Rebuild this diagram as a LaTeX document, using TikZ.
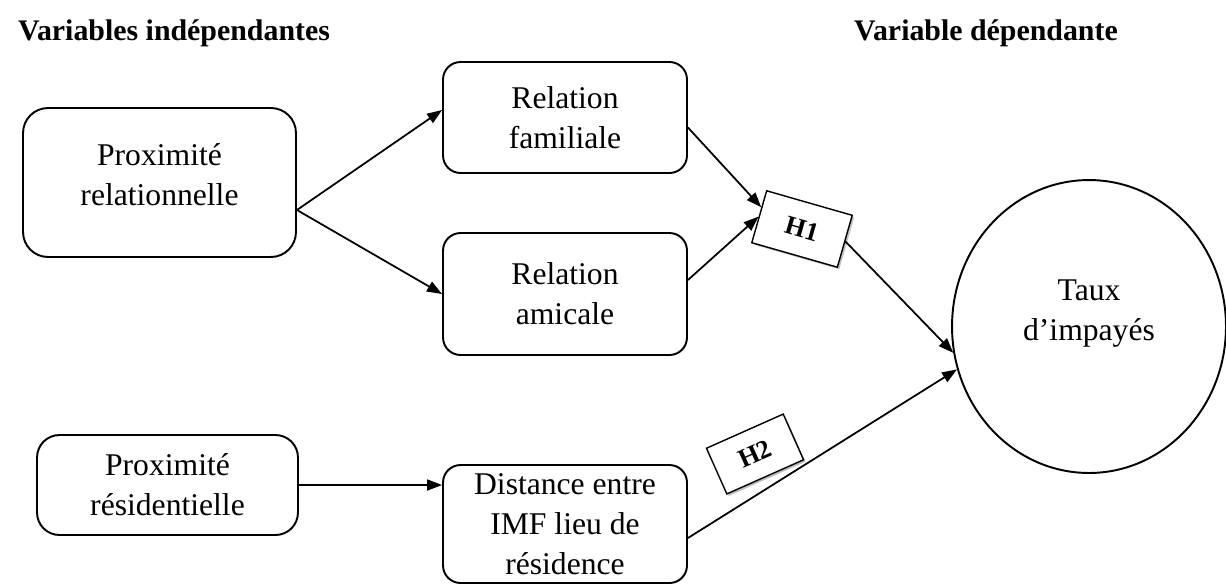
\documentclass[tikz,border=0pt]{standalone}
\usepackage{fontspec}
\setmainfont{Liberation Serif}
\usetikzlibrary{shapes.geometric, arrows.meta, positioning, calc, shadows}

\tikzset{
  varbox/.style={draw, line width=1.1pt, rounded corners=0.35cm, align=center, font=\fontsize{18}{22.7}\selectfont},
  hypbox/.style={draw, line width=0.8pt, fill=white, inner sep=0pt, font=\bfseries\fontsize{15}{15}\selectfont, drop shadow={shadow xshift=0.04cm, shadow yshift=-0.04cm, opacity=0.5}},
  arr/.style={line width=1pt, -{Triangle[length=0.3cm, width=0.22cm]}},
  titre/.style={font=\bfseries\fontsize{17}{20}\selectfont}
}

\begin{document}
\begin{tikzpicture}[x=0.02cm, y=-0.02cm]
        \useasboundingbox (0,0) rectangle (1226,586);

        \node[titre, anchor=base west] (tind) at (12,40) {Variables indépendantes};
        \node[titre, anchor=base east] (tdep) at (1124,40) {Variable dépendante};

        \node[varbox, rounded corners=0.5cm, minimum width=5.46cm, minimum height=2.98cm] (rel) at (159.5,182.5) {Proximité\\relationnelle\\[-0.48cm]};
        \node[varbox, minimum width=4.88cm, minimum height=2.22cm] (fam) at (565,117.5) {Relation\\familiale};
        \node[varbox, minimum width=4.88cm, minimum height=2.44cm] (ami) at (565,294) {Relation\\amicale};
        \node[varbox, rounded corners=0.45cm, minimum width=5.22cm, minimum height=2cm] (res) at (167.5,485) {Proximité\\résidentielle};
        \node[varbox, minimum width=4.88cm, minimum height=2.36cm] (dist) at (565,524) {Distance entre\\IMF lieu de\\résidence};

        \node[draw, line width=1.1pt, ellipse, inner sep=0pt, minimum width=5.48cm, minimum height=5.86cm, align=center, font=\fontsize{18}{22.7}\selectfont] (taux) at (1089,326.5) {Taux\\d’impayés\\[-0.16cm]};

        \node[hypbox, rotate=-16, minimum width=1.78cm, minimum height=1.08cm] (h1) at (802,229) {H1};
        \node[hypbox, rotate=24, minimum width=1.68cm, minimum height=1cm] (h2) at (755,454) {H2};

        \draw[arr] ([yshift=-0.55cm]rel.east) -- ([yshift=0.15cm]fam.west);
        \draw[arr] ([yshift=-0.55cm]rel.east) -- (ami.west);
        \draw[arr] ([yshift=-0.2cm]fam.east) -- ($(h1.west)!0.35!(h1.north west)$);
        \draw[arr] ([yshift=0.28cm]ami.east) -- (h1.west);
        \draw[arr] (h1.east) -- (taux.191);
        \draw[arr] (res.east) -- (res.east -| dist.west);
        \draw[arr] ([yshift=-0.28cm]dist.east) -- (taux.198);
    \end{tikzpicture}
\end{document}
